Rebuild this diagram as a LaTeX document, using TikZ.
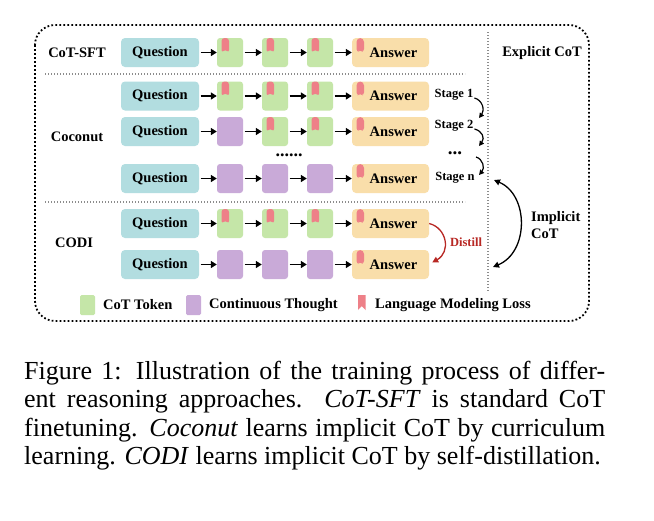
\documentclass[tikz,border=0pt]{standalone}
\usepackage{fontspec}
\setmainfont{Liberation Serif}
\usetikzlibrary{arrows.meta,calc}
\definecolor{qcol}{RGB}{178,221,224}
\definecolor{gcol}{RGB}{197,230,168}
\definecolor{pcol}{RGB}{201,170,216}
\definecolor{acol}{RGB}{249,222,170}
\definecolor{bmcol}{RGB}{238,128,136}
\definecolor{dred}{RGB}{184,40,36}
\tikzset{
  bmark/.style={path picture={\fill[bmcol] ($(path picture bounding box.north west)+(4.5,0)$) -- ++(7.5,0) -- ++(0,15) -- ++(-3.75,-4) -- ++(-3.75,4) -- cycle;}},
  box/.style={rounded corners=4pt, minimum height=29pt, inner sep=0pt, font=\fontsize{14.5}{16}\selectfont\bfseries},
  qbox/.style={box, fill=qcol, minimum width=78pt},
  tok/.style={box, fill=gcol, minimum width=26pt, rounded corners=3pt, bmark},
  ctk/.style={box, fill=pcol, minimum width=26pt, rounded corners=3pt},
  abox/.style={box, fill=acol, minimum width=77pt, bmark},
  arr/.style={-{Triangle[length=6pt,width=7pt]}, line width=1.5pt, shorten <=1.5pt},
  lbl/.style={font=\fontsize{14.5}{17}\selectfont\bfseries, inner sep=1pt},
  stg/.style={font=\fontsize{12.5}{14}\selectfont\bfseries, inner sep=1pt},
  sarr/.style={-{Triangle[length=5pt,width=5pt]}, line width=1.2pt},
  darr/.style={{Triangle[length=6pt,width=6pt]}-{Triangle[length=6pt,width=6pt]}, line width=1.3pt},
  rarr/.style={-{Triangle[length=6pt,width=6pt]}, line width=1.3pt, draw=dred},
  frame/.style={line width=1.8pt, dash pattern=on 1.8pt off 2.2pt, rounded corners=20pt},
  divl/.style={line width=1.2pt, draw=black!45, dash pattern=on 1.2pt off 1.8pt},
  lgbox/.style={minimum width=15pt, minimum height=20pt, inner sep=0pt, rounded corners=1.5pt},
  leg/.style={font=\fontsize{14.5}{16}\selectfont\bfseries, inner sep=1pt},
  captxt/.style={font=\fontsize{26}{28.5}\selectfont, inner sep=0pt, anchor=base west}
}
\newcommand\mkrow[5]{%
  \node[qbox] (#1q) at (160,#2) {Question};
  \node[#3] (#1a) at (230,#2) {};
  \node[#4] (#1b) at (275,#2) {};
  \node[#5] (#1c) at (320,#2) {};
  \node[abox] (#1r) at (390.5,#2) {\hspace*{6pt}Answer};
  \draw[arr] (#1q) -- (#1a);
  \draw[arr] (#1a) -- (#1b);
  \draw[arr] (#1b) -- (#1c);
  \draw[arr] (#1c) -- (#1r);
}
\begin{document}
\begin{tikzpicture}[x=1pt,y=-1pt]
\useasboundingbox[fill=white] (0,0) rectangle (654,520);
% frame and dividers
\draw[frame] (35,25) rectangle (589,321);
\draw[divl] (45,74) -- (465,74);
\draw[divl] (45,202) -- (465,202);
\draw[divl] (488,32) -- (488,292);
% method labels
\node[lbl] (lsft) at (77,53) {CoT-SFT};
\node[lbl] (lcoc) at (77,137) {Coconut};
\node[lbl] (lcodi) at (74,243) {CODI};
\node[lbl] (lexp) at (542,53) {Explicit CoT};
% rows
\mkrow{r0}{52.5}{tok}{tok}{tok}
\mkrow{r1}{96}{tok}{tok}{tok}
\mkrow{r2}{131.5}{ctk}{tok}{tok}
\mkrow{r3}{178.5}{ctk}{ctk}{ctk}
\mkrow{r4}{223.5}{tok}{tok}{tok}
\mkrow{r5}{264.5}{ctk}{ctk}{ctk}
\node[font=\fontsize{18}{18}\selectfont\bfseries, inner sep=0pt] (rdots) at (289,155) {......};
% stages
\node[stg] (s1) at (454,95) {Stage 1};
\node[stg] (s2) at (454,126) {Stage 2};
\node[font=\fontsize{19}{19}\selectfont\bfseries, inner sep=0pt] (sd) at (455,153) {...};
\node[stg] (sn) at (455,178) {Stage n};
\coordinate (t1) at (479,118);
\coordinate (t2) at (479,146);
\coordinate (c3) at (476,157);
\coordinate (t3) at (479,175);
\draw[sarr] ([yshift=-3pt]s1.east) .. controls +(8,2) and +(6,-8) .. (t1);
\draw[sarr] ([yshift=-3pt]s2.east) .. controls +(8,2) and +(6,-8) .. (t2);
\draw[sarr] (c3) .. controls +(7,2) and +(6,-7) .. (t3);
% implicit arrow
\coordinate (i1) at (494,180);
\coordinate (i2) at (493,267);
\draw[darr] (i1) .. controls (529,195) and (529,252) .. (i2);
\node[lbl, align=left, anchor=west] (imp) at (530,225.5) {Implicit\\CoT};
% distill
\draw[rarr] (r4r.east) .. controls (447,228) and (451,252) .. ([xshift=3pt,yshift=2pt]r5r.east);
\node[stg, text=dred] (dist) at (466,242) {Distill};
% legend
\node[lgbox, fill=gcol] (lg1) at (87.5,305) {};
\node[leg, anchor=west] (lt1) at (102,305) {CoT Token};
\node[lgbox, fill=pcol] (lg2) at (193.5,305) {};
\node[leg, anchor=west] (lt2) at (208,305) {Continuous Thought};
\fill[bmcol] (358,295) -- (365.5,295) -- (365.5,310) -- (361.75,306) -- (358,310) -- cycle;
\node[leg, anchor=west] (lt3) at (374,305) {Language Modeling Loss};
% caption
\node[captxt] (c1) at (24,379) {\makebox[581pt][s]{Figure 1: Illustration of the training process of differ-}};
\node[captxt] (c2) at (24,407.5) {\makebox[581pt][s]{ent reasoning approaches. \textit{CoT-SFT} is standard CoT}};
\node[captxt] (c3) at (24,436) {\makebox[581pt][s]{finetuning. \textit{Coconut} learns implicit CoT by curriculum}};
\node[captxt] (c4) at (24,464.5) {learning. \textit{CODI} learns implicit CoT by self-distillation.};
\end{tikzpicture}
\end{document}
